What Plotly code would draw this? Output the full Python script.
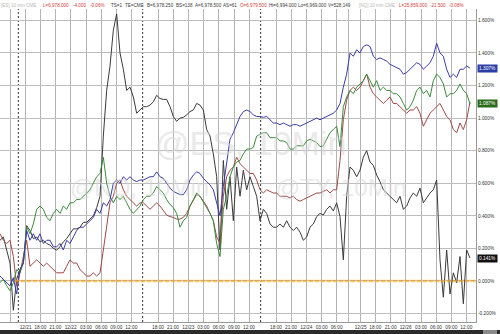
import plotly.graph_objects as go

# ---------------- data: % change, one sample per ~40 min of trading time ----------------
black = [0.25, 0.27, 0.19, 0.11, -0.18, 0.01, 0.07, 0.11, 0.34, 0.31,
         0.26, 0.27, 0.24, 0.25, 0.23, 0.22, 0.20, 0.19, 0.21, 0.24,
         0.26, 0.29, 0.32, 0.32, 0.33, 0.36, 0.36, 0.38, 0.40, 0.45,
         0.52, 0.89, 1.17, 1.32, 1.54, 1.64, 1.40, 1.30, 1.17, 1.19,
         1.13, 1.03, 1.05, 1.07, 1.07, 1.08, 1.10, 1.14, 1.12, 1.115,
         1.115, 1.07, 1.01, 0.98, 1.00, 1.005, 1.02, 1.04, 1.05, 1.09,
         1.08, 1.05, 0.93, 0.89, 0.78, 0.64, 0.19, 0.74, 0.44, 0.64,
         0.37, 0.70, 0.52, 0.68, 0.56, 0.64, 0.58, 0.52, 0.37, 0.44,
         0.415, 0.35, 0.33, 0.33, 0.35, 0.33, 0.37, 0.33, 0.31, 0.33,
         0.30, 0.25, 0.27, 0.33, 0.35, 0.395, 0.415, 0.405, 0.44, 0.46,
         0.43, 0.48, 0.395, 0.13, 0.52, 0.70, 0.68, 0.64, 0.68, 0.76,
         0.80, 0.73, 0.71, 0.65, 0.61, 0.56, 0.54, 0.52, 0.50, 0.48,
         0.52, 0.44, 0.46, 0.51, 0.54, 0.52, 0.57, 0.48, 0.51, 0.54,
         0.56, 0.62, 0.13, -0.10, 0.19, -0.08, 0.05, -0.01, 0.15, -0.14,
         0.19, 0.141]

blue = [0.03, 0.01, -0.01, -0.03, 0.02, -0.08, 0.07, 0.11, 0.31, 0.25,
        0.29, 0.25, 0.29, 0.23, 0.25, 0.25, 0.21, 0.21, 0.23, 0.19,
        0.25, 0.23, 0.27, 0.31, 0.33, 0.33, 0.35, 0.37, 0.39, 0.44,
        0.415, 0.48, 0.46, 0.50, 0.60, 0.62, 0.60, 0.64, 0.62, 0.64,
        0.62, 0.61, 0.62, 0.62, 0.63, 0.64, 0.64, 0.67, 0.64, 0.63,
        0.60, 0.57, 0.55, 0.54, 0.53, 0.53, 0.56, 0.62, 0.65, 0.67,
        0.66, 0.63, 0.61, 0.59, 0.56, 0.48, 0.40, 0.58, 0.74, 0.87,
        0.91, 0.96, 1.01, 1.04, 1.05, 1.04, 1.02, 1.01, 1.01, 1.005,
        1.01, 0.99, 0.97, 0.97, 0.96, 0.97, 0.96, 0.95, 0.96, 0.96,
        0.95, 0.96, 0.97, 0.98, 0.99, 1.00, 0.99, 1.00, 1.01, 1.02,
        1.03, 1.05, 1.09, 1.19, 1.27, 1.40, 1.38, 1.42, 1.40, 1.44,
        1.45, 1.44, 1.38, 1.36, 1.37, 1.36, 1.35, 1.33, 1.32, 1.31,
        1.30, 1.27, 1.28, 1.30, 1.32, 1.34, 1.33, 1.30, 1.32, 1.34,
        1.38, 1.46, 1.40, 1.38, 1.30, 1.25, 1.27, 1.25, 1.30, 1.30,
        1.32, 1.307]

green = [-0.01, 0.01, -0.03, -0.06, -0.01, 0.07, 0.05, 0.11, 0.33, 0.29,
         0.35, 0.44, 0.46, 0.44, 0.39, 0.37, 0.415, 0.44, 0.415, 0.46,
         0.44, 0.48, 0.48, 0.50, 0.50, 0.52, 0.54, 0.56, 0.60, 0.64,
         0.66, 0.76, 0.60, 0.52, 0.48, 0.52, 0.50, 0.52, 0.48, 0.44,
         0.415, 0.44, 0.46, 0.50, 0.52, 0.52, 0.54, 0.58, 0.56, 0.54,
         0.50, 0.47, 0.45, 0.415, 0.33, 0.37, 0.39, 0.46, 0.50, 0.54,
         0.52, 0.48, 0.45, 0.415, 0.37, 0.23, 0.15, 0.44, 0.52, 0.64,
         0.70, 0.73, 0.74, 0.78, 0.81, 0.81, 0.82, 0.89, 0.90, 0.91,
         0.91, 0.88, 0.88, 0.88, 0.86, 0.86, 0.85, 0.81, 0.81, 0.83,
         0.83, 0.83, 0.86, 0.87, 0.86, 0.85, 0.825, 0.83, 0.87, 0.91,
         0.93, 0.95, 0.825, 1.07, 1.13, 1.17, 1.15, 1.19, 1.21, 1.23,
         1.27, 1.23, 1.19, 1.23, 1.17, 1.19, 1.17, 1.17, 1.15, 1.15,
         1.13, 1.09, 1.05, 1.07, 1.11, 1.17, 1.19, 1.15, 1.17, 1.13,
         1.23, 1.27, 1.25, 1.21, 1.13, 1.15, 1.15, 1.17, 1.21, 1.17,
         1.15, 1.087]

red = [0.29, 0.25, 0.23, 0.25, 0.15, -0.03, 0.05, 0.15, 0.25, 0.09,
       0.11, 0.13, 0.11, 0.09, 0.11, 0.09, 0.07, 0.05, 0.05, 0.05,
       0.09, 0.13, 0.11, 0.11, 0.07, 0.05, 0.03, 0.03, 0.05, 0.03,
       0.05, 0.19, 0.35, 0.48, 0.52, 0.60, 0.62, 0.56, 0.52, 0.50,
       0.48, 0.46, 0.48, 0.48, 0.46, 0.44, 0.46, 0.48, 0.46, 0.43,
       0.405, 0.395, 0.39, 0.38, 0.38, 0.39, 0.415, 0.46, 0.50, 0.53,
       0.52, 0.49, 0.46, 0.415, 0.37, 0.27, 0.23, 0.52, 0.64, 0.68,
       0.70, 0.76, 0.72, 0.70, 0.68, 0.66, 0.66, 0.62, 0.56, 0.54,
       0.56, 0.55, 0.54, 0.54, 0.52, 0.52, 0.52, 0.51, 0.52, 0.50,
       0.49, 0.50, 0.51, 0.52, 0.53, 0.54, 0.54, 0.55, 0.56, 0.54,
       0.56, 0.56, 0.74, 0.99, 1.11, 1.17, 1.19, 1.17, 1.19, 1.23,
       1.27, 1.19, 1.15, 1.13, 1.11, 1.09, 1.11, 1.13, 1.09, 1.09,
       1.07, 1.05, 1.03, 1.05, 1.05, 1.07, 1.03, 0.95, 0.99, 1.03,
       1.05, 1.07, 1.09, 1.05, 1.01, 0.99, 0.93, 0.91, 0.97, 0.93,
       0.99, 1.10]

tick_labels = ["", "12/21", "18:00", "21:00", "12/22", "03:00", "06:00", "09:00", "12:00",
               "18:00", "21:00", "12/23", "03:00", "06:00", "09:00", "12:00",
               "18:00", "21:00", "12/24", "03:00", "06:00", "",
               "12/25", "18:00", "21:00", "12/26", "03:00", "06:00", "09:00", "12:00"]

y_ticks = [-0.2, 0.0, 0.2, 0.4, 0.6, 0.8, 1.0, 1.2, 1.4, 1.6]

header_items = [
    ("[ES] 10 min CME", "grey"), ("L=6,978.000", "red"), ("-4.000", "red"), ("-0.06%", "red"),
    ("TS=1", "dark"), ("TE=CME", "dark"), ("B=6,978.250", "dark"), ("BS=138", "dark"),
    ("A=6,978.500", "dark"), ("AS=61", "dark"), ("O=6,979.500", "red"),
    ("Hi=6,994.000", "dark"), ("Lo=6,969.000", "dark"), ("V=528,149", "dark"),
    ("[NQ] 10 min CME", "grey"), ("L=25,859.000", "red"), ("-21.500", "red"), ("-0.08%", "red"),
]

# ---------------- layout / styling ----------------
FONT = "Liberation Sans, Arial, sans-serif"
FS = 4.8
tick_index = [3, 7.7, 12.1, 16.6, 21.2, 25.8, 30.4, 34.9, 39.4,
              47.4, 51.9, 56.5, 61.0, 65.6, 70.2, 74.7,
              82.8, 87.3, 91.9, 96.5, 101.0, 104.6,
              108.2, 112.6, 117.2, 121.7, 126.3, 130.8, 135.4, 139.9]
header_px = [0, 42, 72, 89, 110, 124, 146, 175, 194, 222, 239, 268, 297, 327, 358, 398, 429, 448]
session_breaks = [5.5, 42.8, 78.2]
colors = {"grey": "#b8b8b8", "red": "#d23c3c", "dark": "#3a3a3a"}
XMAX = 142.8
YMIN, YMAX = -0.252, 1.670
PLOT_W = 476

fig = go.Figure()
series = [("black", black, "#3a3a3a"), ("red", red, "#9e4a46"),
          ("green", green, "#3c8a3c"), ("blue", blue, "#3c3ca6")]
for name, vals, col in series:
    fig.add_trace(go.Scatter(x=list(range(len(vals))), y=vals, mode="lines", name=name,
                             line=dict(color=col, width=1), hoverinfo="skip"))

shapes = []
# zero line (yellow glow + orange dashes)
shapes.append(dict(type="line", xref="x", yref="y", x0=4.5, x1=XMAX, y0=0, y1=0,
                   line=dict(color="rgba(250,215,120,0.55)", width=3), layer="below"))
shapes.append(dict(type="line", xref="x", yref="y", x0=4.5, x1=XMAX, y0=0, y1=0,
                   line=dict(color="#f0a020", width=1.3, dash="4px,2px")))
for sb in session_breaks:
    shapes.append(dict(type="line", xref="x", yref="paper", x0=sb, x1=sb, y0=0, y1=1,
                       line=dict(color="#333333", width=1, dash="2px,2px"), layer="below"))
# bottom status bar
shapes.append(dict(type="rect", xref="paper", yref="paper", x0=0, x1=500 / PLOT_W,
                   y0=-12 / 313, y1=-8 / 313, fillcolor="#2b2b2b", line=dict(width=0)))
shapes.append(dict(type="rect", xref="paper", yref="paper", x0=483 / PLOT_W, x1=497 / PLOT_W,
                   y0=-12 / 313, y1=-8 / 313, fillcolor="#8a8a8a", line=dict(width=0)))

annotations = []
for (txt, c), px in zip(header_items, header_px):
    annotations.append(dict(text=txt, xref="paper", yref="paper", x=px / PLOT_W, y=1,
                            xanchor="left", yanchor="bottom", showarrow=False, borderpad=0,
                            font=dict(family=FONT, size=4.6, color=colors[c])))
# watermarks
annotations.append(dict(text="@ES, 10Min", xref="paper", yref="paper", x=250 / PLOT_W, y=(322 - 143) / 313,
                        showarrow=False, font=dict(family="Liberation Sans", size=34, color="#d6d6d6"),
                        opacity=0.5))
annotations.append(dict(text="@NQ, 10Min          @TY, 10Min", xref="paper", yref="paper",
                        x=238 / PLOT_W, y=(322 - 187) / 313,
                        showarrow=False, font=dict(family="Liberation Sans", size=24, color="#d6d6d6"),
                        opacity=0.5))
# last-value tags on right axis
for vals, bg in [(blue, "#2d3ea6"), (green, "#2a6a1c"), (black, "#111111")]:
    annotations.append(dict(text=f"{vals[-1]:.3f}%", xref="paper", yref="y", x=1, y=vals[-1],
                            xanchor="left", yanchor="middle", xshift=1, showarrow=False,
                            bgcolor=bg, borderpad=1,
                            font=dict(family=FONT, size=FS, color="white")))

fig.update_layout(
    width=500, height=334, margin=dict(l=0, r=24, t=9, b=12),
    paper_bgcolor="white", plot_bgcolor="white", showlegend=False,
    shapes=shapes, annotations=annotations,
    xaxis=dict(range=[0, XMAX], tickmode="array", tickvals=tick_index, ticktext=tick_labels,
               showgrid=True, gridcolor="#b4b4b4", gridwidth=1, zeroline=False,
               showline=True, linecolor="#999999", linewidth=1, ticks="", tickangle=0,
               tickfont=dict(family=FONT, size=FS, color="#333333")),
    yaxis=dict(range=[YMIN, YMAX], side="right", tickmode="array", tickvals=y_ticks,
               ticktext=[f"{v:.3f}%" for v in y_ticks],
               showgrid=True, gridcolor="#bdbdbd", gridwidth=1, zeroline=False,
               showline=True, linecolor="#999999", linewidth=1, ticks="",
               tickfont=dict(family=FONT, size=FS, color="#333333")),
)

fig.write_html("out.html")
